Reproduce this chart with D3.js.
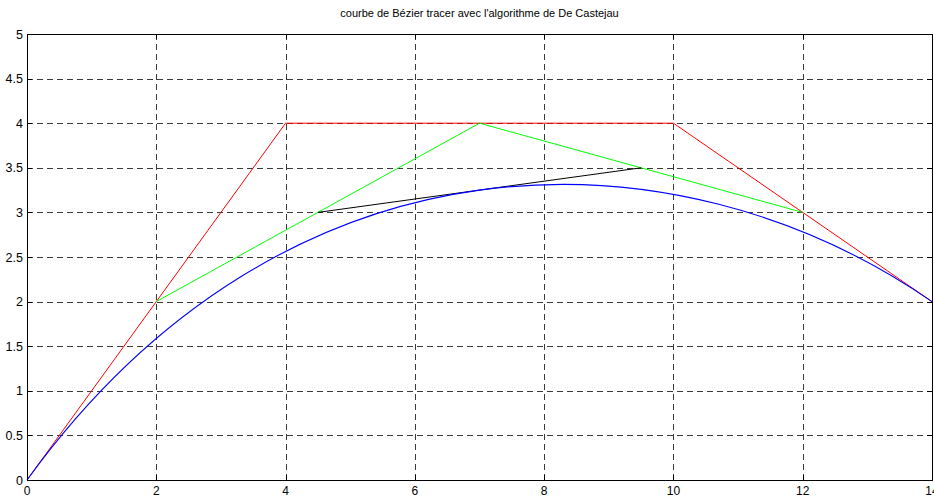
<!DOCTYPE html>
<html>
<head>
<meta charset="utf-8">
<script src="https://cdn.jsdelivr.net/npm/d3@7"></script>
<style>
  html, body { margin: 0; padding: 0; background: #fff; overflow: hidden; }
  svg { display: block; }
  text { font-family: "Liberation Sans", Arial, Helvetica, sans-serif; }
</style>
</head>
<body>
<script>
// Control polygon of the cubic Bézier curve
const controlX = [0, 4, 10, 14];
const controlY = [0, 4, 4, 2];
// First De Casteljau level at t = 0.5
const level1X = [2, 7, 12];
const level1Y = [2, 4, 3];
// Second De Casteljau level at t = 0.5
const level2X = [4.5, 9.5];
const level2Y = [3, 3.5];

const xTicks = [0, 2, 4, 6, 8, 10, 12, 14];
const yTicks = [0, 0.5, 1, 1.5, 2, 2.5, 3, 3.5, 4, 4.5, 5];
const title = "courbe de Bézier tracer avec l'algorithme de De Castejau";

const W = 934, H = 497;
const margin = { left: 27, right: 2, top: 34, bottom: 17 };

const svg = d3.select("body").append("svg").attr("width", W).attr("height", H);

const x = d3.scaleLinear().domain([0, 14]).range([margin.left, W - margin.right]);
const y = d3.scaleLinear().domain([0, 5]).range([H - margin.bottom, margin.top]);

const x0 = x.range()[0], x1 = x.range()[1];
const y0 = y.range()[0], y1 = y.range()[1];

// dashed grid
const grid = svg.append("g").attr("stroke", "#3a3a3a").attr("stroke-width", 1)
  .attr("stroke-dasharray", "6,4").attr("shape-rendering", "crispEdges");
grid.selectAll("line.v").data(xTicks.slice(1, -1)).join("line")
  .attr("x1", d => Math.round(x(d)) + 0.5).attr("x2", d => Math.round(x(d)) + 0.5)
  .attr("y1", y1).attr("y2", y0);
grid.selectAll("line.h").data(yTicks.slice(1, -1)).join("line")
  .attr("y1", d => Math.round(y(d)) + 0.5).attr("y2", d => Math.round(y(d)) + 0.5)
  .attr("x1", x0).attr("x2", x1);

// series
const line = d3.line().x(d => x(d[0])).y(d => y(d[1]));
const pts = (xs, ys) => xs.map((v, i) => [v, ys[i]]);

svg.append("path").attr("d", line(pts(controlX, controlY)))
  .attr("fill", "none").attr("stroke", "#ff0000").attr("stroke-width", 1);
svg.append("path").attr("d", line(pts(level1X, level1Y)))
  .attr("fill", "none").attr("stroke", "#00ff00").attr("stroke-width", 1);
svg.append("path").attr("d", line(pts(level2X, level2Y)))
  .attr("fill", "none").attr("stroke", "#000000").attr("stroke-width", 1);

// Bézier curve drawn from its control points
const bez = d3.path();
bez.moveTo(x(controlX[0]), y(controlY[0]));
bez.bezierCurveTo(x(controlX[1]), y(controlY[1]), x(controlX[2]), y(controlY[2]), x(controlX[3]), y(controlY[3]));
svg.append("path").attr("d", bez.toString())
  .attr("fill", "none").attr("stroke", "#0000ff").attr("stroke-width", 1.1);

// frame
svg.append("rect")
  .attr("x", Math.round(x0) + 0.5).attr("y", Math.round(y1) + 0.5)
  .attr("width", Math.round(x1) - Math.round(x0)).attr("height", Math.round(y0) - Math.round(y1))
  .attr("fill", "none").attr("stroke", "#000").attr("stroke-width", 1)
  .attr("shape-rendering", "crispEdges");

// inward ticks
const ticks = svg.append("g").attr("stroke", "#000").attr("shape-rendering", "crispEdges");
const tl = 5;
xTicks.forEach(t => {
  const xx = Math.round(x(t)) + 0.5;
  ticks.append("line").attr("x1", xx).attr("x2", xx).attr("y1", y0).attr("y2", y0 - tl);
  ticks.append("line").attr("x1", xx).attr("x2", xx).attr("y1", y1).attr("y2", y1 + tl);
});
yTicks.forEach(t => {
  const yy = Math.round(y(t)) + 0.5;
  ticks.append("line").attr("y1", yy).attr("y2", yy).attr("x1", x0).attr("x2", x0 + tl);
  ticks.append("line").attr("y1", yy).attr("y2", yy).attr("x1", x1).attr("x2", x1 - tl);
});

// tick labels
svg.append("g").selectAll("text").data(xTicks).join("text")
  .attr("x", d => x(d)).attr("y", y0 + 15)
  .attr("text-anchor", "middle").attr("font-size", 12).text(d => d);
svg.append("g").selectAll("text").data(yTicks).join("text")
  .attr("x", x0 - 4).attr("y", d => y(d) + 4.5)
  .attr("text-anchor", "end").attr("font-size", 12.5).text(d => d);

// title
svg.append("text").attr("x", (x0 + x1) / 2).attr("y", y1 - 17)
  .attr("text-anchor", "middle").attr("font-size", 11).text(title);
</script>
</body>
</html>
